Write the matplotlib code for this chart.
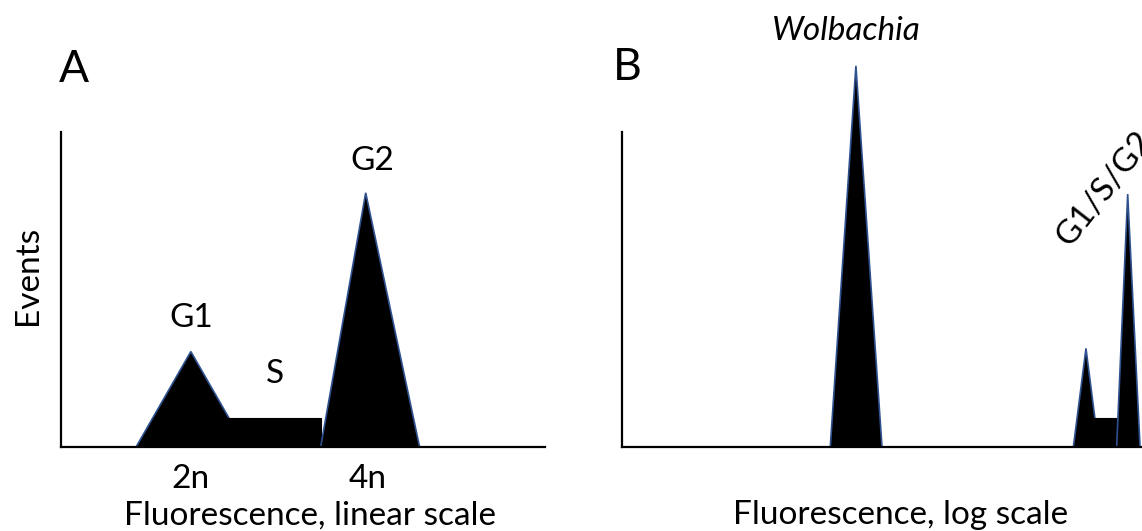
import matplotlib
matplotlib.use("Agg")
import matplotlib.pyplot as plt
from matplotlib.patches import Polygon
import numpy as np

W, H = 1142, 531
plt.rcParams['font.family'] = ['Lato', 'DejaVu Sans']

# ---------------- data ----------------
# Panel A: linear fluorescence (units: DNA content, 2 = 2n, 4 = 4n), events 0-100
a_ticks = [2, 4]
a_ticklabels = ['2n', '4n']
g1_x = [1.38, 2.00, 2.62]        # left base, apex, right base
g1_h = 30.3
s_x = [2.35, 3.47]               # plateau start/end
s_h = 9.3
g2_x = [3.47, 3.98, 4.59]
g2_h = 80.7

# Panel B: log fluorescence, events 0-100
wol_x = [40, 63, 100]
wol_h = 121
c1_x = [2965, 3707, 4634]
c1_h = 31.3
cs_x = [4198, 6776]
cs_h = 9.1
c2_x = [6383, 7762, 9659]
c2_h = 80.3

EDGE = '#2F528F'
FS = 24

fig = plt.figure(figsize=(W / 100, H / 100), dpi=100)


def px_axes(x0, x1, ytop, ybot):
    return fig.add_axes([x0 / W, 1 - ybot / H, (x1 - x0) / W, (ybot - ytop) / H])


def style(ax):
    for s in ['top', 'right']:
        ax.spines[s].set_visible(False)
    for s in ['left', 'bottom']:
        ax.spines[s].set_linewidth(1.6)
        ax.spines[s].set_color('black')
    ax.set_yticks([])
    ax.tick_params(axis='x', length=0)
    ax.patch.set_alpha(0)


def tri(ax, xs, h, clip=True):
    p = Polygon([(xs[0], 0), (xs[1], h), (xs[2], 0)], closed=True,
                facecolor='black', edgecolor=EDGE, linewidth=1.2, clip_on=clip)
    ax.add_patch(p)


def rect(ax, xs, h):
    p = Polygon([(xs[0], 0), (xs[0], h), (xs[1], h), (xs[1], 0)], closed=True,
                facecolor='black', edgecolor='black', linewidth=0.8)
    ax.add_patch(p)


# ---------------- panel A ----------------
axA = px_axes(61, 545, 132, 447)
style(axA)
axA.set_xlim(0.53, 6.01)
axA.set_ylim(0, 100)
tri(axA, g1_x, g1_h)
rect(axA, s_x, s_h)
tri(axA, g2_x, g2_h)
axA.set_xticks(a_ticks, a_ticklabels, fontsize=FS)
for t in axA.get_xticklabels():
    t.set_va('baseline')
axA.tick_params(axis='x', pad=29.5)
axA.set_ylabel('Events', fontsize=FS)
axA.yaxis.label.set_va('baseline')
axA.yaxis.set_label_coords((37 - 61) / 484, (447 - 275) / 315)
axA.set_xlabel('Fluorescence, linear scale', fontsize=FS)
axA.xaxis.label.set_va('baseline')
axA.xaxis.set_label_coords((310.5 - 61) / 484, -(525 - 447) / 315)


def ftext(x, y, s, **kw):
    fig.text(x / W, 1 - y / H, s, ha='center', va='baseline', **kw)


ftext(74, 82, 'A', fontsize=32)
ftext(191.7, 327, 'G1', fontsize=FS)
ftext(274.5, 383, 'S', fontsize=FS)
ftext(372, 170, 'G2', fontsize=FS)

# ---------------- panel B ----------------
axB = px_axes(622, 1142, 132, 447)
style(axB)
axB.set_xscale('log')
axB.set_xlim(1, 1e4)
axB.set_ylim(0, 100)
axB.set_xticks([])
axB.minorticks_off()
tri(axB, wol_x, wol_h, clip=False)
tri(axB, c1_x, c1_h)
rect(axB, cs_x, cs_h)
tri(axB, c2_x, c2_h)
axB.set_xlabel('Fluorescence, log scale', fontsize=FS)
axB.xaxis.label.set_va('baseline')
axB.xaxis.set_label_coords((900.5 - 622) / 520, -(524 - 447) / 315)

ftext(627, 80, 'B', fontsize=32)
ftext(846, 39.5, 'Wolbachia', fontsize=FS, style='italic')
fig.text(1070 / W, 1 - 248 / H, 'G1/S/G2', fontsize=FS, rotation=52,
         rotation_mode='anchor', ha='left', va='baseline')

fig.savefig('out.png', dpi=100)
